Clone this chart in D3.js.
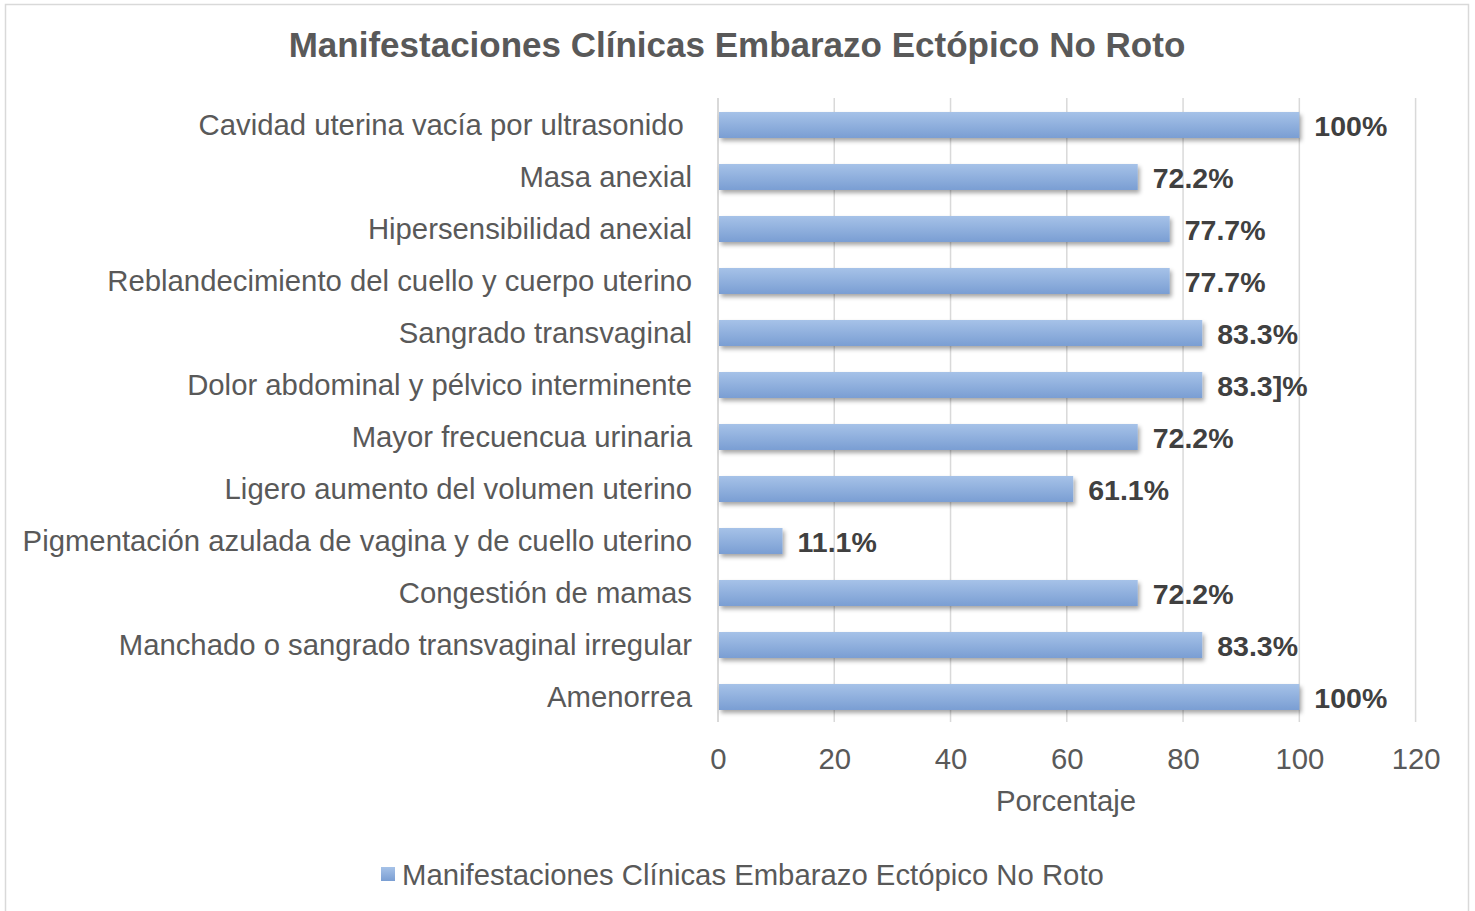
<!DOCTYPE html>
<html lang="es">
<head>
<meta charset="UTF-8">
<title>Manifestaciones Clínicas</title>
<script src="https://d3js.org/d3.v7.min.js"></script>
<style>
    body { margin: 0; background: #fff; }
    text { font-family: "Liberation Sans", Arial, sans-serif; white-space: pre; }
    .axis path, .axis line { display: none; }
    .axis text { font-size: 29.3px; fill: #595959; }
</style>
</head>
<body>
<script>
// datos
const categories = [
    "Cavidad uterina vacía por ultrasonido ",
    "Masa anexial",
    "Hipersensibilidad anexial",
    "Reblandecimiento del cuello y cuerpo uterino",
    "Sangrado transvaginal",
    "Dolor abdominal y pélvico interminente",
    "Mayor frecuencua urinaria",
    "Ligero aumento del volumen uterino",
    "Pigmentación azulada de vagina y de cuello uterino",
    "Congestión de mamas",
    "Manchado o sangrado transvaginal irregular",
    "Amenorrea"
];
const values = [100, 72.2, 77.7, 77.7, 83.3, 83.3, 72.2, 61.1, 11.1, 72.2, 83.3, 100];
const valueLabels = ["100%", "72.2%", "77.7%", "77.7%", "83.3%", "83.3]%", "72.2%", "61.1%", "11.1%", "72.2%", "83.3%", "100%"];
const xTicks = [0, 20, 40, 60, 80, 100, 120];
const seriesName = "Manifestaciones Clínicas Embarazo Ectópico No Roto";

const W = 1475, H = 911;
const svg = d3.select("body").append("svg").attr("width", W).attr("height", H);

// degradado de las barras
const defs = svg.append("defs");
const grad = defs.append("linearGradient").attr("id", "barGrad")
    .attr("x1", 0).attr("y1", 0).attr("x2", 0).attr("y2", 1);
grad.append("stop").attr("offset", "0%").attr("stop-color", "#a6c2e8");
grad.append("stop").attr("offset", "100%").attr("stop-color", "#7a9ed3");
const shadow = defs.append("filter").attr("id", "shadow")
    .attr("x", "-5%").attr("y", "-20%").attr("width", "115%").attr("height", "160%");
shadow.append("feDropShadow").attr("dx", 2).attr("dy", 3).attr("stdDeviation", 2)
    .attr("flood-color", "#000").attr("flood-opacity", 0.35);

// marco del grafico
svg.append("rect").attr("x", 5.5).attr("y", 4.5).attr("width", 1463).attr("height", 920)
    .attr("fill", "none").attr("stroke", "#d9d9d9").attr("stroke-width", 1.5);

const plotL = 718, plotR = 1415.6, plotT = 98, plotB = 722;

const x = d3.scaleLinear().domain([0, 120]).range([plotL, plotR]);
const y = d3.scaleBand().domain(categories).range([plotT + 1, plotB + 1]).paddingInner(0.5).paddingOuter(0.25);

// titulo
svg.append("text").attr("x", 737).attr("y", 57).attr("text-anchor", "middle")
    .style("font-size", "35px").style("font-weight", "bold").attr("fill", "#595959")
    .text(seriesName);

// lineas de cuadricula
svg.append("g").selectAll("line").data(xTicks.slice(1)).enter().append("line")
    .attr("x1", d => x(d)).attr("x2", d => x(d))
    .attr("y1", plotT).attr("y2", plotB)
    .attr("stroke", "#d9d9d9").attr("stroke-width", 1.5);
svg.append("line").attr("x1", plotL).attr("x2", plotL).attr("y1", plotT).attr("y2", plotB)
    .attr("stroke", "#d9d9d9").attr("stroke-width", 2);

// barras
svg.append("g").selectAll("rect").data(values).enter().append("rect")
    .attr("x", x(0) + 1)
    .attr("y", (d, i) => y(categories[i]))
    .attr("width", d => x(d) - x(0) - 1)
    .attr("height", y.bandwidth())
    .attr("fill", "url(#barGrad)")
    .attr("filter", "url(#shadow)");

// etiquetas de datos
svg.append("g").selectAll("text").data(values).enter().append("text")
    .attr("x", d => x(d) + 15)
    .attr("y", (d, i) => y(categories[i]) + y.bandwidth() / 2 + 1)
    .attr("dy", "0.36em")
    .style("font-size", "28.5px").style("font-weight", "bold").attr("fill", "#404040")
    .text((d, i) => valueLabels[i]);

// eje y
const yAxis = svg.append("g").attr("class", "axis")
    .attr("transform", `translate(${plotL - 8},0)`)
    .call(d3.axisLeft(y).tickSize(0).tickPadding(18));
yAxis.selectAll("text").attr("dy", "0.34em");

// eje x
const xAxis = svg.append("g").attr("class", "axis")
    .attr("transform", `translate(0,${plotB})`)
    .call(d3.axisBottom(x).tickValues(xTicks).tickSize(0).tickPadding(26));
xAxis.selectAll("text").attr("dy", "0.71em");

svg.append("text").attr("x", 1066).attr("y", 811).attr("text-anchor", "middle")
    .style("font-size", "29.3px").attr("fill", "#595959").text("Porcentaje");

// leyenda
svg.append("rect").attr("x", 381).attr("y", 867).attr("width", 14).attr("height", 14)
    .attr("fill", "url(#barGrad)");
svg.append("text").attr("x", 402).attr("y", 885)
    .style("font-size", "29.3px").attr("fill", "#595959").text(seriesName);
</script>
</body>
</html>
